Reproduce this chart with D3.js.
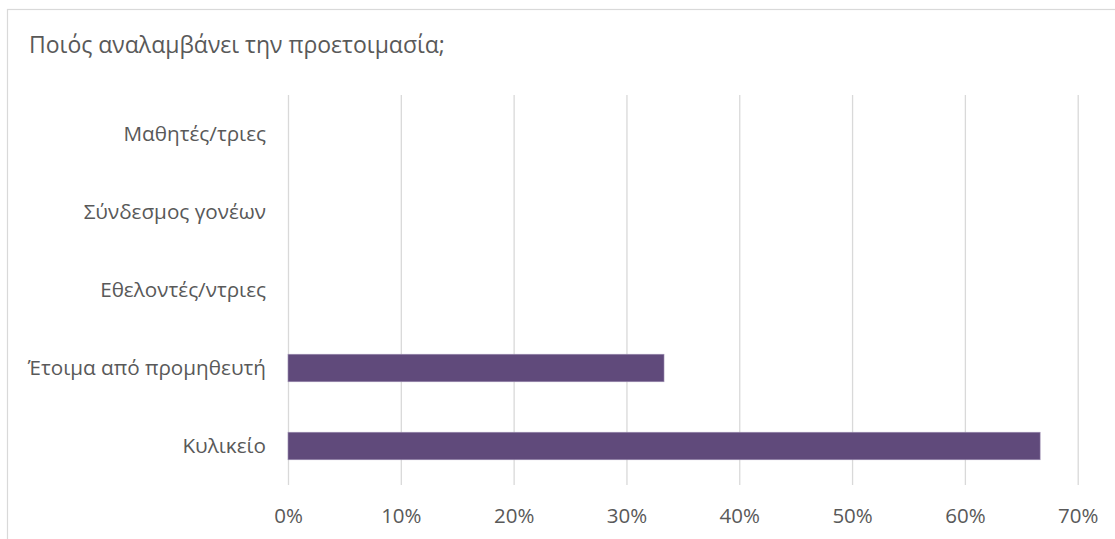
<!DOCTYPE html>
<html>
<head>
<meta charset="utf-8">
<script src="https://cdn.jsdelivr.net/npm/d3@7"></script>
<style>
  body { margin: 0; background: #fff; }
  svg text { font-family: "Open Sans", "Noto Sans", sans-serif; fill: #595959; }
</style>
</head>
<body>
<div id="chart"></div>
<script>
// Δεδομένα (από πάνω προς τα κάτω)
const categories = ['Μαθητές/τριες', 'Σύνδεσμος γονέων', 'Εθελοντές/ντριες', 'Έτοιμα από προμηθευτή', 'Κυλικείο'];
const values = [0, 0, 0, 0.3333, 0.6667];
const tickValues = [0, 0.1, 0.2, 0.3, 0.4, 0.5, 0.6, 0.7];
const title = 'Ποιός αναλαμβάνει την προετοιμασία;';

const width = 1115, height = 539;
const plot = { left: 288, right: 1077.7, top: 95, bottom: 485 };

const svg = d3.select('#chart').append('svg')
  .attr('width', width)
  .attr('height', height);

// πλαίσιο γραφήματος
svg.append('rect')
  .attr('x', 7.5).attr('y', 9.5)
  .attr('width', width + 20).attr('height', height + 20)
  .attr('fill', '#fff')
  .attr('stroke', '#d9d9d9')
  .attr('stroke-width', 1.2);

svg.append('text')
  .attr('x', 29)
  .attr('y', 53)
  .attr('font-size', 23)
  .text(title);

const x = d3.scaleLinear()
  .domain([0, 0.7])
  .range([plot.left, plot.right]);

const y = d3.scaleBand()
  .domain(categories)
  .range([plot.top, plot.bottom])
  .paddingInner(0.647)
  .paddingOuter(0.3235);

// γραμμές πλέγματος + ετικέτες άξονα x
const xAxis = svg.append('g')
  .attr('transform', `translate(0,${plot.bottom})`)
  .call(d3.axisBottom(x)
    .tickValues(tickValues)
    .tickFormat(d3.format('.0%'))
    .tickSize(-(plot.bottom - plot.top))
    .tickPadding(0));
xAxis.select('.domain').remove();
xAxis.selectAll('.tick line')
  .attr('stroke', '#d9d9d9')
  .attr('stroke-width', 1.3);
xAxis.selectAll('.tick text')
  .attr('font-size', 20.5)
  .attr('y', 38)
  .attr('dy', 0);

// ετικέτες κατηγοριών
const yAxis = svg.append('g')
  .attr('transform', `translate(${plot.left},0)`)
  .call(d3.axisLeft(y).tickSize(0).tickPadding(22));
yAxis.select('.domain').remove();
yAxis.selectAll('.tick text')
  .attr('font-size', 20.7)
  .attr('dy', '0.35em');

// μπάρες
svg.append('g').selectAll('rect')
  .data(categories.map((c, i) => ({ cat: c, val: values[i] })))
  .join('rect')
  .attr('x', x(0))
  .attr('y', d => y(d.cat))
  .attr('width', d => x(d.val) - x(0))
  .attr('height', y.bandwidth())
  .attr('fill', '#604a7b')
  .attr('stroke', d => d.val > 0 ? '#9d8fb3' : 'none')
  .attr('stroke-width', 0.6);
</script>
</body>
</html>
